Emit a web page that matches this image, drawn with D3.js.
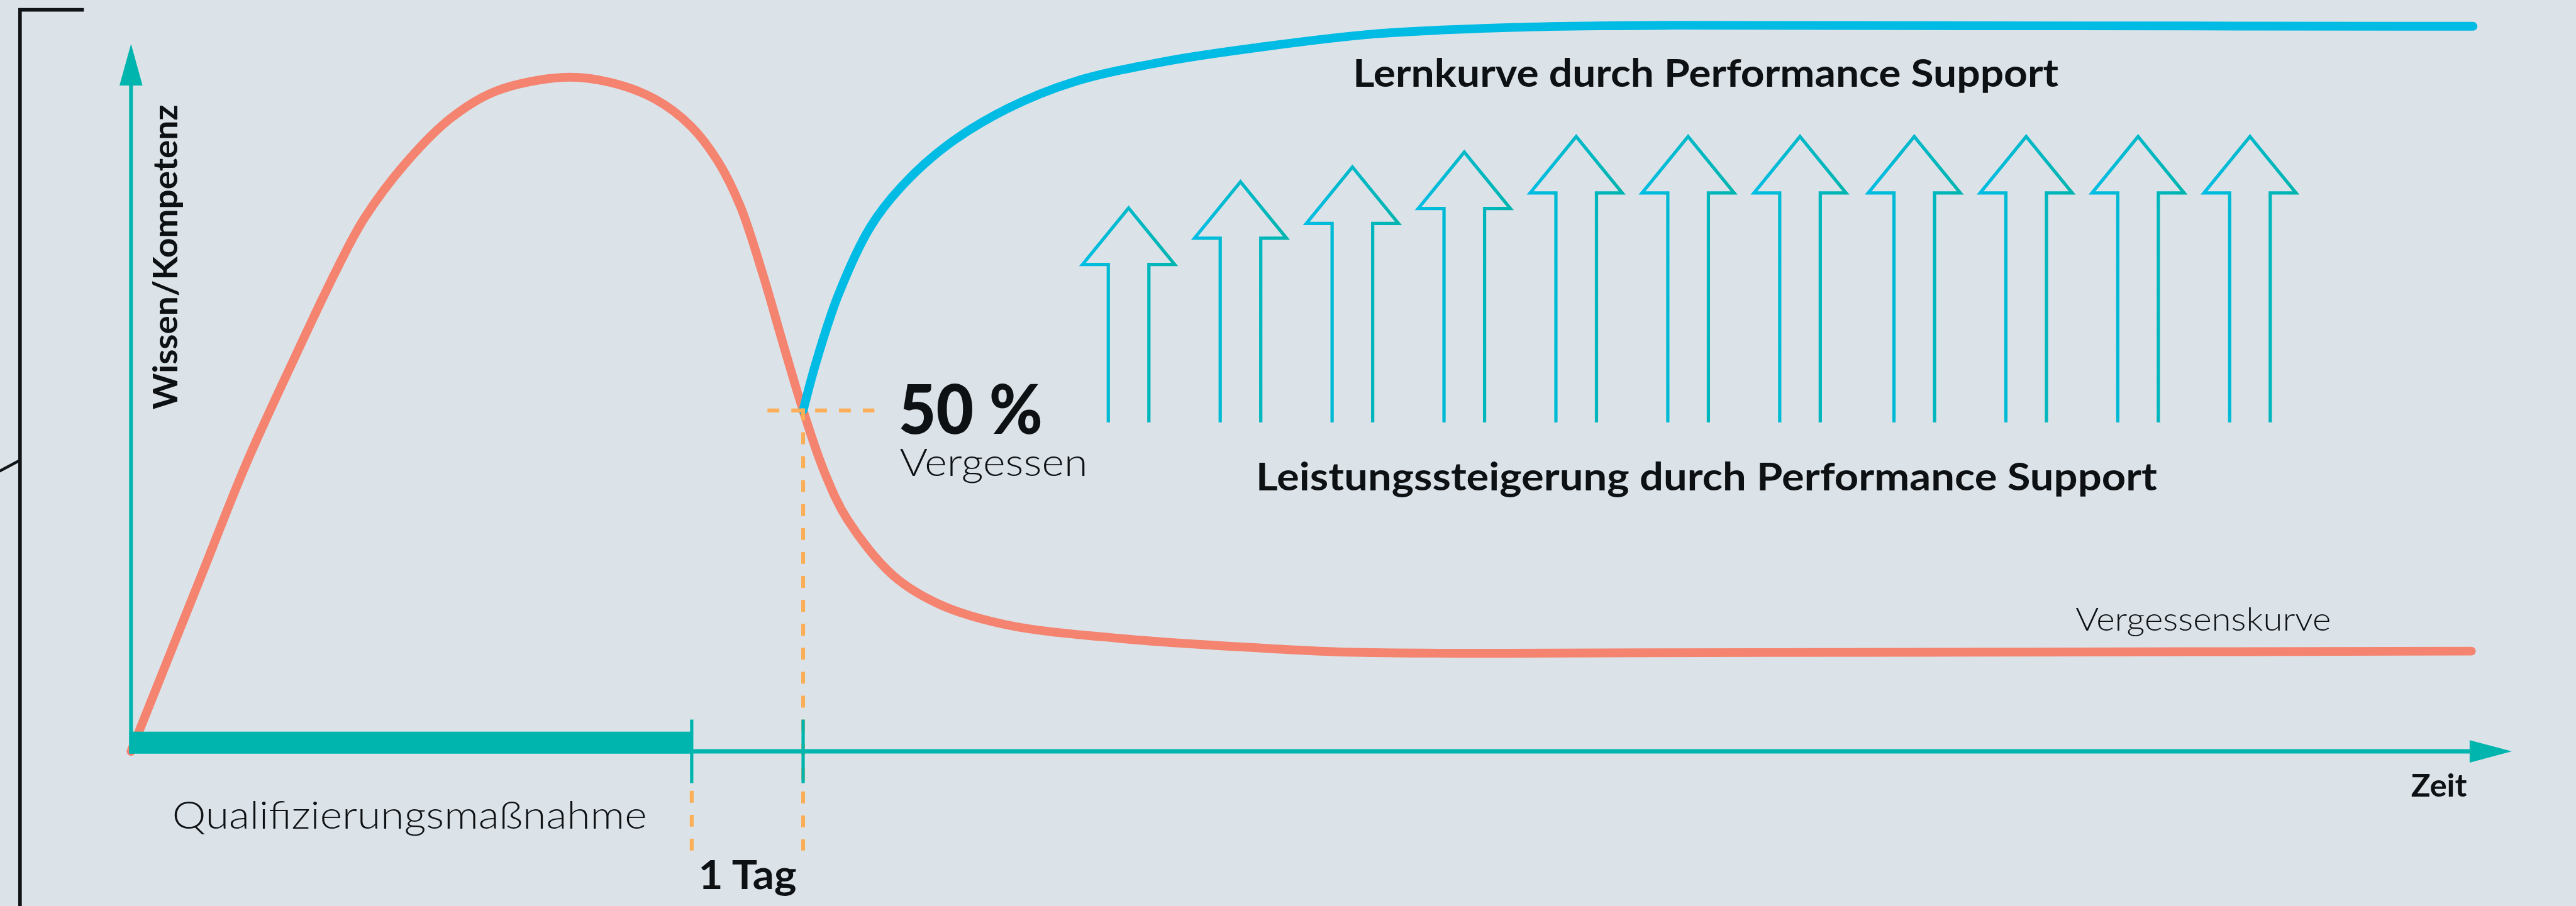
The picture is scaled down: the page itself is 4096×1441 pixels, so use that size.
<!DOCTYPE html>
<html>
<head>
<meta charset="utf-8">
<script src="https://cdn.jsdelivr.net/npm/d3@7"></script>
<style>
  html, body { margin: 0; padding: 0; background: #dce3e8; overflow: hidden; }
  svg { display: block; }
  text { font-family: Lato, "Noto Sans", sans-serif; fill: #0e1114; }
</style>
</head>
<body>
<div id="chart"></div>
<script>
// Vergessenskurve: Zeit / Wissen
const forgetTime  = [0, 2.92, 4.84, 6.75, 8.66, 9.79, 11.51, 13.42, 15.34, 18.19, 20.10, 22.01, 23.51, 24.66, 25.58, 26.50, 27.42, 28.23, 29.13, 30.09, 32.01, 33.92, 36.77, 41.54, 47.27, 51.09, 56.67, 63.57, 77.39, 98.30];
const forgetValue = [0, 24.55, 40.67, 54.76, 68.24, 75.29, 83.04, 89.47, 93.34, 95.27, 94.58, 92.18, 88.38, 83.35, 77.15, 67.85, 57.24, 48.18, 39.43, 32.77, 24.86, 20.84, 17.89, 15.96, 14.64, 14.02, 13.87, 13.94, 14.02, 14.17];

// Lernkurve durch Performance Support
const learnTime  = [28.23, 28.76, 29.70, 31.04, 32.37, 34.28, 36.77, 39.63, 43.45, 47.27, 52.18, 58.05, 64.72, 77.39, 98.37];
const learnValue = [48.18, 54.84, 64.45, 74.05, 79.86, 85.67, 90.78, 94.66, 97.52, 99.46, 101.39, 102.32, 102.63, 102.56, 102.48];

// Leistungssteigerung (Pfeile)
const arrowTime  = [41.9, 46.6, 51.3, 56.0, 60.7, 65.4, 70.1, 74.9, 79.6, 84.3, 89.0];
const arrowValue = [76.8, 80.5, 82.6, 84.7, 86.9, 86.9, 86.9, 86.9, 86.9, 86.9, 86.9];
const arrowBase  = 46.5;

// Markierungen auf der Zeitachse
const trainingEnd = 23.55;
const oneDay = 28.23;
const forgetLevel = 48.18;

// Maße der Referenz, danach verkleinert
const W = 4699, H = 1653;
const scale = 4096 / W;

const svg = d3.select("#chart").append("svg")
    .attr("width", 4096).attr("height", 1441);

svg.append("rect").attr("width", 4096).attr("height", 1441).attr("fill", "#dce3e8");

const defs = svg.append("defs");
const grad = defs.append("linearGradient").attr("id", "arrowGrad")
    .attr("x1", 0).attr("x2", 1).attr("y1", 0).attr("y2", 0);
grad.append("stop").attr("offset", "0%").attr("stop-color", "#00bde3");
grad.append("stop").attr("offset", "100%").attr("stop-color", "#00b4ae");

const g = svg.append("g").attr("transform", `scale(${scale})`);

const xScale = d3.scaleLinear().domain([0, 100]).range([239, 4582]);
const yScale = d3.scaleLinear().domain([0, 100]).range([1371, 80]);

const TEAL = "#00b5ae", CORAL = "#f4836f", BLUE = "#00bbe4", ORANGE = "#fbae55", INK = "#111416";

// Rahmen links
g.append("path")
    .attr("d", `M153,18H36.5V${H + 10}`)
    .attr("fill", "none").attr("stroke", INK).attr("stroke-width", 6.5);
g.append("path")
    .attr("d", "M-5,862L36,840")
    .attr("fill", "none").attr("stroke", INK).attr("stroke-width", 5);

// Kurven
const line = d3.line()
    .x(d => xScale(d[0]))
    .y(d => yScale(d[1]))
    .curve(d3.curveCatmullRom.alpha(0.5));

g.append("path")
    .datum(d3.zip(forgetTime, forgetValue))
    .attr("d", line)
    .attr("fill", "none").attr("stroke", CORAL)
    .attr("stroke-width", 16).attr("stroke-linecap", "round").attr("stroke-linejoin", "round");

g.append("path")
    .datum(d3.zip(learnTime, learnValue))
    .attr("d", line)
    .attr("fill", "none").attr("stroke", BLUE)
    .attr("stroke-width", 16).attr("stroke-linecap", "round").attr("stroke-linejoin", "round");

// gestrichelte Hilfslinien
const dashes = g.append("g")
    .attr("stroke", ORANGE).attr("stroke-width", 7).attr("fill", "none");
dashes.append("line")
    .attr("x1", xScale(oneDay) - 65).attr("x2", xScale(oneDay) + 130)
    .attr("y1", yScale(forgetLevel)).attr("y2", yScale(forgetLevel))
    .attr("stroke-dasharray", "21.5 22");
dashes.append("line")
    .attr("x1", xScale(oneDay)).attr("x2", xScale(oneDay))
    .attr("y1", yScale(forgetLevel) - 4).attr("y2", 1552)
    .attr("stroke-dasharray", "21.7 22");
dashes.append("line")
    .attr("x1", xScale(trainingEnd)).attr("x2", xScale(trainingEnd))
    .attr("y1", 1443).attr("y2", 1552)
    .attr("stroke-dasharray", "21.7 22");

// Achsen
const x0 = xScale(0), y0 = yScale(0);
g.append("line")
    .attr("x1", x0).attr("x2", x0).attr("y1", y0 + 4).attr("y2", yScale(100) + 72)
    .attr("stroke", TEAL).attr("stroke-width", 7);
g.append("path")
    .attr("d", `M${x0 - 21},${yScale(100) + 76}L${x0},${yScale(100)}L${x0 + 21},${yScale(100) + 76}Z`)
    .attr("fill", TEAL);
g.append("line")
    .attr("x1", x0 - 3).attr("x2", xScale(100) - 72).attr("y1", y0).attr("y2", y0)
    .attr("stroke", TEAL).attr("stroke-width", 8);
g.append("path")
    .attr("d", `M${xScale(100) - 77},${y0 - 20.5}L${xScale(100)},${y0}L${xScale(100) - 77},${y0 + 20.5}Z`)
    .attr("fill", TEAL);

// Balken Qualifizierungsmaßnahme
g.append("rect")
    .attr("x", x0 - 3).attr("y", y0 - 36)
    .attr("width", xScale(trainingEnd) - x0 + 3).attr("height", 40)
    .attr("fill", TEAL);

// Markierungen
g.selectAll(".tick")
    .data([trainingEnd, oneDay])
    .join("line")
    .attr("class", "tick")
    .attr("x1", d => xScale(d)).attr("x2", d => xScale(d))
    .attr("y1", y0 - 58).attr("y2", y0 + 58)
    .attr("stroke", TEAL).attr("stroke-width", 6);

// Pfeile
const HEAD = 84, SHAFT = 37, HEAD_H = 103;
const arrowPath = (t, v) => {
    const cx = xScale(t), tip = yScale(v), base = tip + HEAD_H, bottom = yScale(arrowBase);
    return `M${cx - SHAFT},${bottom}V${base}H${cx - HEAD}L${cx},${tip}L${cx + HEAD},${base}H${cx + SHAFT}V${bottom}`;
};
g.selectAll(".arrow")
    .data(d3.zip(arrowTime, arrowValue))
    .join("path")
    .attr("class", "arrow")
    .attr("d", d => arrowPath(d[0], d[1]))
    .attr("fill", "none")
    .attr("stroke", "url(#arrowGrad)")
    .attr("stroke-width", 6)
    .attr("stroke-linejoin", "miter");

// Texte
function label(x, y, txt, size, weight, width, rotate) {
    const t = g.append("text")
        .attr("x", x).attr("y", y)
        .style("font-size", size + "px")
        .style("font-weight", weight)
        .text(txt);
    if (rotate) t.attr("transform", `rotate(-90, ${x}, ${y})`);
    if (width) t.attr("textLength", width).attr("lengthAdjust", "spacingAndGlyphs");
    return t;
}

label(323, 747, "Wissen/Kompetenz", 61, 700, 556, true);
label(1639, 792, "50 %", 124, 900, 263);
label(1641, 869, "Vergessen", 70, 300, 343);
label(2468, 158, "Lernkurve durch Performance Support", 71, 700, 1287);
label(2291, 895, "Leistungssteigerung durch Performance Support", 70, 700, 1644);
label(3786, 1151, "Vergessenskurve", 59, 300, 466);
label(4398, 1453, "Zeit", 57, 700, 102);
label(314, 1512, "Qualifizierungsmaßnahme", 70, 300, 866);
label(1274, 1622, "1 Tag", 72, 700, 179);
</script>
</body>
</html>
